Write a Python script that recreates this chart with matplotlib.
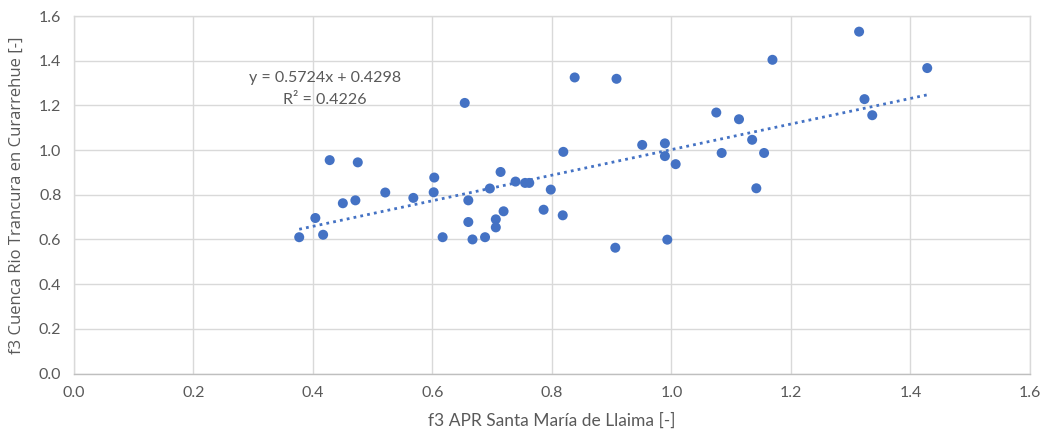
import matplotlib
matplotlib.use("Agg")
import matplotlib.pyplot as plt
import numpy as np

# f3 factors: APR Santa María de Llaima (x) vs. Cuenca Rio Trancura en Curarrehue (y)
f3_llaima = [0.377, 0.404, 0.417, 0.428, 0.450, 0.471, 0.475, 0.521, 0.568, 0.602,
             0.603, 0.617, 0.654, 0.660, 0.660, 0.667, 0.688, 0.696, 0.706, 0.706,
             0.714, 0.719, 0.739, 0.755, 0.762, 0.786, 0.798, 0.818, 0.819, 0.838,
             0.906, 0.908, 0.951, 0.989, 0.989, 0.993, 1.007, 1.075, 1.084, 1.113,
             1.135, 1.142, 1.155, 1.169, 1.314, 1.323, 1.336, 1.428]
f3_trancura = [0.610, 0.696, 0.621, 0.955, 0.762, 0.775, 0.945, 0.810, 0.786, 0.811,
               0.877, 0.610, 1.211, 0.775, 0.678, 0.600, 0.610, 0.828, 0.690, 0.654,
               0.902, 0.726, 0.859, 0.853, 0.853, 0.733, 0.823, 0.708, 0.992, 1.325,
               0.563, 1.319, 1.023, 1.030, 0.973, 0.599, 0.937, 1.168, 0.987, 1.138,
               1.046, 0.829, 0.987, 1.404, 1.530, 1.228, 1.156, 1.367]

# Linear trend line coefficients
slope = 0.5724
intercept = 0.4298
r_squared = 0.4226

x_ticks = [0.0, 0.2, 0.4, 0.6, 0.8, 1.0, 1.2, 1.4, 1.6]
y_ticks = [0.0, 0.2, 0.4, 0.6, 0.8, 1.0, 1.2, 1.4, 1.6]

blue = "#4472C4"
grid_gray = "#D9D9D9"
text_gray = "#595959"
body = ["Lato", "DejaVu Sans"]

fig = plt.figure(figsize=(10.46, 4.34), dpi=100)
ax = fig.add_axes([0.0707, 0.1394, 0.9140, 0.8237])

ax.scatter(f3_llaima, f3_trancura, s=52, color=blue, edgecolors="none", zorder=3)

xt = np.array([min(f3_llaima), max(f3_llaima)])
ax.plot(xt, slope * xt + intercept, color=blue, linestyle=(0, (1, 1.5)),
        linewidth=2.0, zorder=2)

ax.text(0.42, 1.322, f"y = {slope:.4f}x + {intercept:.4f}", ha="center", va="center",
        fontsize=11.5, color=text_gray, family=body)
ax.text(0.42, 1.223, f"R² = {r_squared:.4f}", ha="center", va="center",
        fontsize=11.5, color=text_gray, family=body)

ax.set_xlim(0, 1.6)
ax.set_ylim(0, 1.6)
ax.set_xticks(x_ticks)
ax.set_yticks(y_ticks)
ax.set_xticklabels([f"{v:.1f}" for v in x_ticks], family=body, fontsize=11.5, color=text_gray)
ax.set_yticklabels([f"{v:.1f}" for v in y_ticks], family=body, fontsize=11.5, color=text_gray)
ax.tick_params(length=0, pad=9)

ax.grid(True, color=grid_gray, linewidth=1.0)
ax.set_axisbelow(True)
for side in ["top", "right", "left"]:
    ax.spines[side].set_color(grid_gray)
    ax.spines[side].set_linewidth(1.0)
ax.spines["bottom"].set_color("#BFBFBF")
ax.spines["bottom"].set_linewidth(1.0)

ax.set_xlabel("f3 APR Santa María de Llaima [-]", family=body, fontsize=12.5,
              color=text_gray, labelpad=9)
ax.set_ylabel("f3 Cuenca Rio Trancura en Curarrehue [-]", family=["Open Sans", "DejaVu Sans"],
              fontsize=12, color=text_gray, labelpad=10)

fig.savefig("out.png", dpi=100, facecolor="white")
